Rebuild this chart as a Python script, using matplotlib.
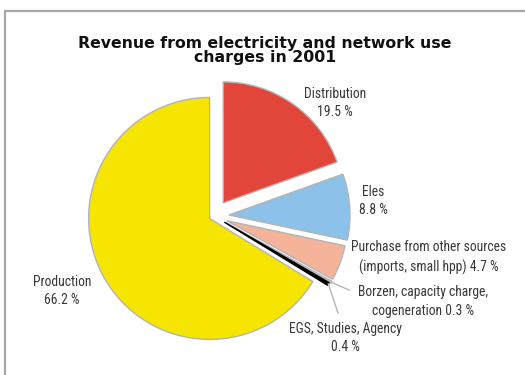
import numpy as np
import matplotlib
matplotlib.use("Agg")
import matplotlib.pyplot as plt
from matplotlib import font_manager
from matplotlib.patches import Rectangle

# revenue shares, clockwise from 12 o'clock
categories = ["Distribution", "Eles", "Purchase from other sources", "Borzen", "EGS", "Production"]
shares = [19.5, 8.8, 4.7, 0.3, 0.4, 66.2]
label_texts = [
    "Distribution\n19.5 %",
    "Eles\n8.8 %",
    "Purchase from other sources\n(imports, small hpp) 4.7 %",
    "Borzen, capacity charge,\ncogeneration 0.3 %",
    "EGS, Studies, Agency\n0.4 %",
    "Production\n66.2 %",
]
title = "Revenue from electricity and network use\ncharges in 2001"

colors = ["#e2463a", "#8cc1e9", "#f5b49a", "#c4c4c4", "#000000", "#f5e500"]
# pie() offsets wedges in data units (pixels here)
explode = [16.0, 15.0, 13.5, 14.0, 12.0, 5.0]

W, H = 525, 375
fig = plt.figure(figsize=(5.25, 3.75), dpi=100)
ax = fig.add_axes([0, 0, 1, 1])

# pick a narrow face for the slice labels if one is installed
fonts = font_manager.fontManager.ttflist
label_kw = dict(family="Liberation Sans", fontsize=9)
for f in fonts:
    if f.name in ("Liberation Sans Narrow", "Roboto Condensed", "Open Sans Condensed"):
        label_kw = dict(family=f.name, fontsize=9.8)
        break
else:
    if any(f.name == "DejaVu Sans" and f.stretch == "condensed" for f in fonts):
        label_kw = dict(family="DejaVu Sans", fontstretch="condensed", fontsize=9)

cx, cy, R = 214, H - 216, 121
wedges, _ = ax.pie(shares, colors=colors, explode=explode, startangle=90,
                   counterclock=False, center=(cx, cy), radius=R, frame=True,
                   wedgeprops=dict(edgecolor="#b4b4b4", linewidth=1.0))
wedges[4].set_edgecolor("#000000")
ax.set_xlim(0, W)
ax.set_ylim(0, H)
ax.set_aspect("equal")
ax.axis("off")

# panel border, cut off at right and bottom
ax.add_patch(Rectangle((4.5, -10), W + 20, H - 10.5 + 10, fill=False,
                       edgecolor="#a8a8a8", linewidth=1.6))

ax.text(265, H - 50.5, title, ha="center", va="center", fontsize=11.3,
        fontweight="bold", family="DejaVu Sans", linespacing=0.93, color="#111111")

# label anchor positions (pixel coords from top)
label_pos = [(335, 103), (373, 201), (429, 257.5), (423, 301.5), (345, 338), (62, 291)]
for txt, (lx, ly) in zip(label_texts, label_pos):
    ax.text(lx, H - ly, txt, ha="center", va="center", color="#383838",
            linespacing=1.4, **label_kw)

# leader lines for the two thin slices
leader_end = {3: (349, 290), 4: (338, 313)}
for i, (ex, ey) in leader_end.items():
    w = wedges[i]
    ang = np.deg2rad((w.theta1 + w.theta2) / 2)
    tx = w.center[0] + w.r * np.cos(ang)
    ty = w.center[1] + w.r * np.sin(ang)
    ax.plot([tx, ex], [ty, H - ey], color="#b4b4b4", linewidth=1.0)

fig.savefig("out.png", dpi=100)
